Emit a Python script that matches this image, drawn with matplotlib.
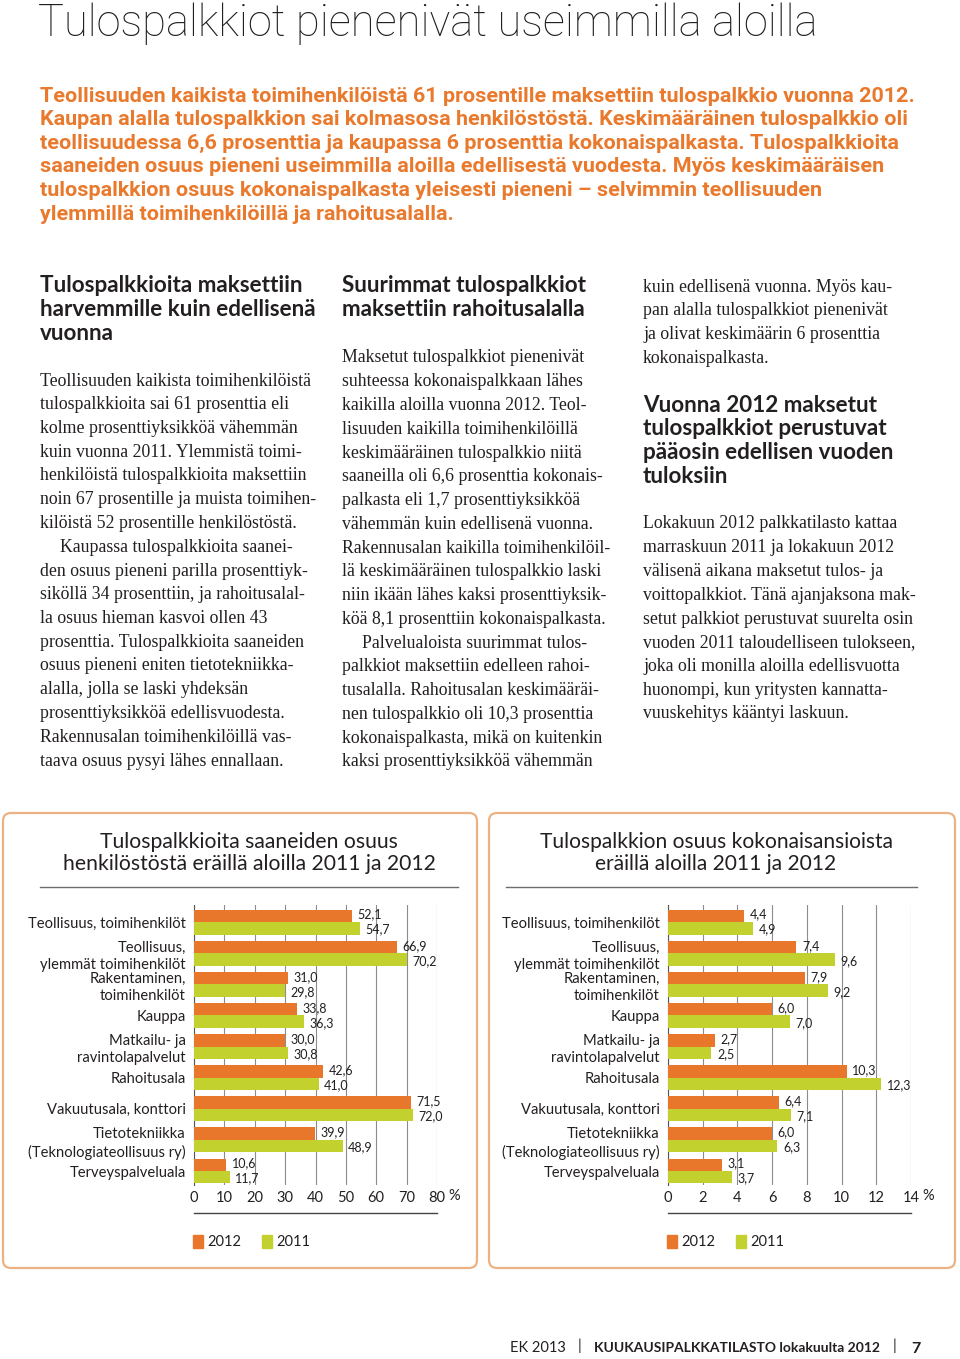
import numpy as np
import matplotlib.pyplot as plt
from matplotlib.patches import FancyBboxPatch, Rectangle

plt.rcParams['font.family'] = ['Lato', 'DejaVu Sans']

# ---- data ----
categories = ['Teollisuus, toimihenkilöt', 'Teollisuus,\nylemmät toimihenkilöt',
              'Rakentaminen,\ntoimihenkilöt', 'Kauppa', 'Matkailu- ja\nravintolapalvelut',
              'Rahoitusala', 'Vakuutusala, konttori',
              'Tietotekniikka\n(Teknologiateollisuus ry)', 'Terveyspalveluala']
share_2012 = [52.1, 66.9, 31.0, 33.8, 30.0, 42.6, 71.5, 39.9, 10.6]
share_2011 = [54.7, 70.2, 29.8, 36.3, 30.8, 41.0, 72.0, 48.9, 11.7]
pay_2012 = [4.4, 7.4, 7.9, 6.0, 2.7, 10.3, 6.4, 6.0, 3.1]
pay_2011 = [4.9, 9.6, 9.2, 7.0, 2.5, 12.3, 7.1, 6.3, 3.7]
years = ['2012', '2011']

title = 'Tulospalkkiot pienenivät useimmilla aloilla'
intro = ['Teollisuuden kaikista toimihenkilöistä 61 prosentille maksettiin tulospalkkio vuonna 2012.',
         'Kaupan alalla tulospalkkion sai kolmasosa henkilöstöstä. Keskimääräinen tulospalkkio oli',
         'teollisuudessa 6,6 prosenttia ja kaupassa 6 prosenttia kokonaispalkasta. Tulospalkkioita',
         'saaneiden osuus pieneni useimmilla aloilla edellisestä vuodesta. Myös keskimääräisen',
         'tulospalkkion osuus kokonaispalkasta yleisesti pieneni – selvimmin teollisuuden',
         'ylemmillä toimihenkilöillä ja rahoitusalalla.']

col1_head = ['Tulospalkkioita maksettiin', 'harvemmille kuin edellisenä', 'vuonna']
col1_body = ['Teollisuuden kaikista toimihenkilöistä',
             'tulospalkkioita sai 61 prosenttia eli',
             'kolme prosenttiyksikköä vähemmän',
             'kuin vuonna 2011. Ylemmistä toimi-',
             'henkilöistä tulospalkkioita maksettiin',
             'noin 67 prosentille ja muista toimihen-',
             'kilöistä 52 prosentille henkilöstöstä.',
             '>Kaupassa tulospalkkioita saanei-',
             'den osuus pieneni parilla prosenttiyk-',
             'siköllä 34 prosenttiin, ja rahoitusalal-',
             'la osuus hieman kasvoi ollen 43',
             'prosenttia. Tulospalkkioita saaneiden',
             'osuus pieneni eniten tietotekniikka-',
             'alalla, jolla se laski yhdeksän',
             'prosenttiyksikköä edellisvuodesta.',
             'Rakennusalan toimihenkilöillä vas-',
             'taava osuus pysyi lähes ennallaan.']
col2_head = ['Suurimmat tulospalkkiot', 'maksettiin rahoitusalalla']
col2_body = ['Maksetut tulospalkkiot pienenivät',
             'suhteessa kokonaispalkkaan lähes',
             'kaikilla aloilla vuonna 2012. Teol-',
             'lisuuden kaikilla toimihenkilöillä',
             'keskimääräinen tulospalkkio niitä',
             'saaneilla oli 6,6 prosenttia kokonais-',
             'palkasta eli 1,7 prosenttiyksikköä',
             'vähemmän kuin edellisenä vuonna.',
             'Rakennusalan kaikilla toimihenkilöil-',
             'lä keskimääräinen tulospalkkio laski',
             'niin ikään lähes kaksi prosenttiyksik-',
             'köä 8,1 prosenttiin kokonaispalkasta.',
             '>Palvelualoista suurimmat tulos-',
             'palkkiot maksettiin edelleen rahoi-',
             'tusalalla. Rahoitusalan keskimääräi-',
             'nen tulospalkkio oli 10,3 prosenttia',
             'kokonaispalkasta, mikä on kuitenkin',
             'kaksi prosenttiyksikköä vähemmän']
col3_top = ['kuin edellisenä vuonna. Myös kau-',
            'pan alalla tulospalkkiot pienenivät',
            'ja olivat keskimäärin 6 prosenttia',
            'kokonaispalkasta.']
col3_head = ['Vuonna 2012 maksetut', 'tulospalkkiot perustuvat',
             'pääosin edellisen vuoden', 'tuloksiin']
col3_body = ['Lokakuun 2012 palkkatilasto kattaa',
             'marraskuun 2011 ja lokakuun 2012',
             'välisenä aikana maksetut tulos- ja',
             'voittopalkkiot. Tänä ajanjaksona mak-',
             'setut palkkiot perustuvat suurelta osin',
             'vuoden 2011 taloudelliseen tulokseen,',
             'joka oli monilla aloilla edellisvuotta',
             'huonompi, kun yritysten kannatta-',
             'vuuskehitys kääntyi laskuun.']

chart1_title = 'Tulospalkkioita saaneiden osuus\nhenkilöstöstä eräillä aloilla 2011 ja 2012'
chart2_title = 'Tulospalkkion osuus kokonaisansioista\neräillä aloilla 2011 ja 2012'

ORANGE = '#E8772B'
GREEN = '#C3D12F'
INTRO = '#E9792C'
BOX = '#EBB284'
TEXT = '#231F20'

W, H = 960, 1359
fig = plt.figure(figsize=(9.6, 13.59), dpi=100)
bg = fig.add_axes([0, 0, 1, 1], zorder=0)
bg.set_xlim(0, W)
bg.set_ylim(H, 0)
bg.axis('off')
renderer = fig.canvas.get_renderer()


def fit(s, target, **kw):
    # font size that gives the text the wanted width in pixels
    t = bg.text(0, 0, s, fontsize=20, **kw)
    w = t.get_window_extent(renderer=renderer).width
    t.remove()
    return 20 * target / w


def lines(x, y0, step, rows, size, **kw):
    for i, s in enumerate(rows):
        dx = 0
        if s.startswith('>'):
            s = s[1:]
            dx = 20
        bg.text(x + dx, y0 + i * step, s, fontsize=size, va='center', ha='left', **kw)


# title + intro
ts = fit(title, 780, fontweight='light', family='Roboto')
bg.text(38, 24, title, fontsize=ts, fontweight='light', family='Roboto', color=TEXT, va='center')
isz = fit(intro[0], 871, fontweight='bold', family='Roboto')
lines(40, 96, 23.6, intro, isz, fontweight='bold', family='Roboto', color=INTRO)

# columns
body_kw = dict(family='Liberation Serif', color=TEXT)
bsz = fit(col1_body[0], 272, **body_kw)
head_kw = dict(family='Lato', fontweight='bold', color=TEXT)
hsz = fit(col1_head[1], 276, **head_kw)

lines(40, 286, 24, col1_head, hsz, **head_kw)
lines(40, 381, 23.75, col1_body, bsz, **body_kw)
lines(342, 286, 24, col2_head, hsz, **head_kw)
lines(342, 358, 23.76, col2_body, bsz, **body_kw)
lines(643, 287, 23.7, col3_top, bsz, **body_kw)
lines(643, 405, 23.7, col3_head, hsz, **head_kw)
lines(643, 524, 23.75, col3_body, bsz, **body_kw)

# chart boxes
for x0, x1 in [(3, 477), (489, 955)]:
    bg.add_patch(FancyBboxPatch((x0, 813), x1 - x0, 1268 - 813,
                                boxstyle='round,pad=0,rounding_size=8',
                                fc='none', ec=BOX, lw=1.6))

lab_size = fit(categories[0], 157)


def chart(left, right, v12, v11, xmax, step, ttl, tcx, sep):
    ax = fig.add_axes([left / W, 1 - 1185 / H, (right - left) / W, (1185 - 905) / H], zorder=2)
    ax.set_facecolor('none')
    y = np.arange(len(categories))
    ax.barh(y - 0.2, v12, height=0.4, color=ORANGE, zorder=3)
    ax.barh(y + 0.2, v11, height=0.4, color=GREEN, zorder=3)
    for yi, a, b in zip(y, v12, v11):
        ax.annotate(f'{a:.1f}'.replace('.', ','), (a, yi - 0.24), xytext=(4, 0),
                    textcoords='offset points', va='center', fontsize=9, color=TEXT)
        ax.annotate(f'{b:.1f}'.replace('.', ','), (b, yi + 0.24), xytext=(4, 0),
                    textcoords='offset points', va='center', fontsize=9, color=TEXT)
    ax.set_xlim(0, xmax)
    ax.set_ylim(8.45, -0.55)
    ticks = np.arange(0, xmax + step / 2, step)
    ax.set_xticks(ticks)
    ax.set_xticklabels([f'{t:g}' for t in ticks])
    ax.set_yticks(y)
    ax.set_yticklabels(categories, fontsize=lab_size, linespacing=1.3, color=TEXT)
    ax.tick_params(axis='x', length=0, pad=4, labelsize=10.5, labelcolor=TEXT)
    ax.tick_params(axis='y', length=0, pad=6)
    ax.grid(axis='x', color='#8c8c8c', lw=0.8)
    ax.set_axisbelow(True)
    for s in ['top', 'right', 'bottom']:
        ax.spines[s].set_visible(False)
    ax.spines['left'].set_color('#555555')
    ax.annotate('%', (1, 0), xycoords='axes fraction', xytext=(8, -3),
                textcoords='offset points', ha='left', va='top', fontsize=10.5, color=TEXT)

    tsz = fit(ttl.split('\n')[0], 298 if left < 480 else 355)
    bg.text(tcx, 853, ttl, fontsize=tsz, ha='center', va='center', linespacing=1.15, color=TEXT)
    bg.plot(sep, [887, 887], color='#6d6d6d', lw=1)
    bg.plot([left, right], [1213, 1213], color='#444444', lw=1)
    # legend
    for k, (c, yr) in enumerate(zip([ORANGE, GREEN], years)):
        lx = left - 1 + k * 69
        bg.add_patch(Rectangle((lx, 1235), 10, 13, color=c))
        bg.text(lx + 14, 1241.5, yr, fontsize=10.5, va='center', color=TEXT)


chart(194, 437, share_2012, share_2011, 80, 10, chart1_title, 249, [40, 458])
chart(668, 911, pay_2012, pay_2011, 14, 2, chart2_title, 716, [506, 917])

# footer
bg.text(510, 1348, 'EK 2013', fontsize=10.5, va='center', color=TEXT)
bg.text(578, 1346, '|', fontsize=11, va='center', color=TEXT)
bg.text(594, 1348, 'KUUKAUSIPALKKATILASTO lokakuulta 2012', fontsize=10,
        fontweight='bold', va='center', color=TEXT)
bg.text(893, 1346, '|', fontsize=11, va='center', color=TEXT)
bg.text(911, 1349, '7', fontsize=11.5, fontweight='bold', va='center', color=TEXT)

fig.savefig('out.png', dpi=100, facecolor='white')
